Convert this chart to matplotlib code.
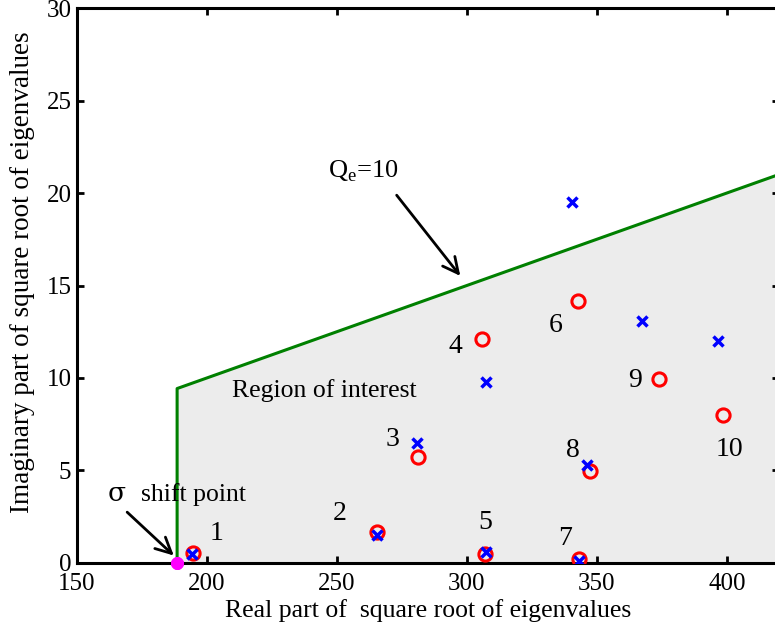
"""Eigenvalue plot: square-root eigenvalues vs the Q_e=10 region of interest."""
import matplotlib
matplotlib.use("Agg")
import matplotlib.pyplot as plt

plt.rcParams.update({
    "font.family": ["Liberation Serif", "DejaVu Serif"],
    "mathtext.fontset": "custom",
    "mathtext.rm": "Liberation Serif",
    "font.size": 18,
})

# computed eigenvalues (red circles)
circ_re = [194.6, 265.4, 281.0, 305.8, 306.9, 342.6, 343.1, 347.2, 373.8, 398.4]
circ_im = [0.54, 1.68, 5.73, 12.1, 0.49, 14.15, 0.2, 4.97, 9.95, 8.0]
# reference eigenvalues (blue crosses)
cross_re = [194.3, 265.4, 280.7, 307.3, 307.2, 340.3, 343.1, 346.0, 367.4, 396.7]
cross_im = [0.5, 1.5, 6.5, 9.77, 0.58, 19.5, 0.11, 5.3, 13.1, 12.02]
mode_ids = ["1", "2", "3", "4", "5", "6", "7", "8", "9", "10"]
label_re = [203.8, 251.2, 271.2, 295.4, 306.9, 334.2, 337.7, 340.8, 364.6, 400.8]
label_im = [1.57, 2.7, 6.65, 11.7, 2.2, 12.86, 1.35, 6.1, 9.84, 6.16]

# region of interest boundary (Q_e = 10)
region_re = [188.5, 188.5, 420.0, 420.0]
region_im = [0.0, 9.43, 21.0, 0.0]
shift_re, shift_im = 188.5, 0.0

fig = plt.figure(figsize=(7.75, 6.32), dpi=100)
ax = fig.add_axes([0.0994, 0.1092, 0.9056, 0.8781])

ax.fill(region_re, region_im, color="#ececec", zorder=1)
ax.plot(region_re, region_im, color=(0, 0.5, 0), lw=2.2, zorder=2, clip_on=False)

ax.plot(circ_re, circ_im, "o", ms=9.5, mfc="none", mec="red", mew=2.2, zorder=4)
ax.plot(cross_re, cross_im, "x", ms=7, mec="blue", mew=2.5, zorder=5)
ax.plot(shift_re, shift_im, marker=(8, 2, 0), ms=9, mec="magenta", mew=3,
        zorder=6, clip_on=False)

for lab, x, y in zip(mode_ids, label_re, label_im):
    ax.text(x, y, lab, ha="center", va="center", fontsize=20)

ax.text(209.6, 9.35, "Region of interest", ha="left", va="center", fontsize=18.5)

ax.annotate("", xy=(298.1, 15.4), xytext=(272.3, 20.0),
            arrowprops=dict(arrowstyle="->", lw=2, color="black", mutation_scale=28))
ax.text(246.5, 21.2, r"Q$_{\mathrm{e}}$=10", ha="left", va="center", fontsize=19)

ax.annotate("", xy=(188.0, 0.3), xytext=(168.5, 2.85),
            arrowprops=dict(arrowstyle="->", lw=2, color="black", mutation_scale=28))
ax.text(165.4, 3.75, "σ", ha="center", va="center", fontsize=19, family="DejaVu Serif")
ax.text(174.6, 3.68, "shift point", ha="left", va="center", fontsize=18.5)

ax.set_xlim(150, 420)
ax.set_ylim(0, 30)
ax.set_xticks([150, 200, 250, 300, 350, 400])
ax.set_yticks([0, 5, 10, 15, 20, 25, 30])
ax.tick_params(direction="in", top=True, right=True, length=5, width=2, labelsize=18)
ax.tick_params(axis="x", pad=7)
ax.tick_params(axis="y", pad=4)
for sp in ax.spines.values():
    sp.set_linewidth(2.2)

ax.set_xlabel("Real part of  square root of eigenvalues", fontsize=18.5, labelpad=3)
ax.set_ylabel("Imaginary part of square root of eigenvalues", fontsize=19.5)
ax.yaxis.set_label_coords(-0.06, 0.524)

fig.savefig("out.png", dpi=100)
